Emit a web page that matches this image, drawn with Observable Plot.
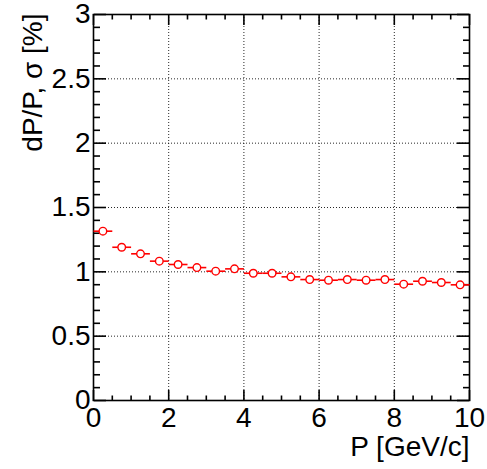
<!DOCTYPE html>
<html>
<head>
<meta charset="utf-8">
<script src="https://cdn.jsdelivr.net/npm/d3@7"></script>
<script src="https://cdn.jsdelivr.net/npm/@observablehq/plot@0.6"></script>
<style>
  html, body { margin: 0; padding: 0; background: white; }
</style>
</head>
<body>
<div id="chart"></div>
<script>
// Bin centers (GeV/c), bin half-width, resolution values (%)
const pCenters = [0.25, 0.75, 1.25, 1.75, 2.25, 2.75, 3.25, 3.75, 4.25, 4.75,
                  5.25, 5.75, 6.25, 6.75, 7.25, 7.75, 8.25, 8.75, 9.25, 9.75];
const pHalfWidth = [0.25, 0.25, 0.25, 0.25, 0.25, 0.25, 0.25, 0.25, 0.25, 0.25,
                    0.25, 0.25, 0.25, 0.25, 0.25, 0.25, 0.25, 0.25, 0.25, 0.25];
const sigma = [1.316, 1.191, 1.140, 1.083, 1.057, 1.033, 1.005, 1.023, 0.989, 0.989,
               0.961, 0.940, 0.935, 0.940, 0.935, 0.940, 0.904, 0.927, 0.917, 0.899];

const xTicks = [0, 2, 4, 6, 8, 10];
const yTicks = [0, 0.5, 1, 1.5, 2, 2.5, 3];
const xTickLabels = ["0", "2", "4", "6", "8", "10"];
const yTickLabels = ["0", "0.5", "1", "1.5", "2", "2.5", "3"];
const xMinorTicks = d3.range(0, 10.001, 0.5).filter(v => !xTicks.includes(v));
const yMinorTicks = d3.range(0, 30.001, 1).map(v => v / 10).filter(v => !yTicks.includes(v));
const xTitle = "P [GeV/c]";
const yTitle = "dP/P, σ [%]";

const rows = pCenters.map((p, i) => ({p, lo: p - pHalfWidth[i], hi: p + pHalfWidth[i], s: sigma[i]}));

const font = "'Liberation Sans', Arial, Helvetica, sans-serif";
const axisLine = 1.6;
const xFmt = v => xTickLabels[xTicks.indexOf(v)];
const yFmt = v => yTickLabels[yTicks.indexOf(v)];

const chart = Plot.plot({
  width: 487,
  height: 469,
  marginLeft: 93,
  marginRight: 18,
  marginTop: 14,
  marginBottom: 69,
  x: {domain: [0, 10]},
  y: {domain: [0, 3]},
  style: {fontFamily: font, fontSize: "28px", color: "black", background: "white", overflow: "visible"},
  marks: [
    Plot.gridX(xTicks.slice(1, -1), {stroke: "black", strokeOpacity: 0.85, strokeDasharray: "1,2", strokeWidth: 1}),
    Plot.gridY(yTicks.slice(1, -1), {stroke: "black", strokeOpacity: 0.85, strokeDasharray: "1,2", strokeWidth: 1}),
    // major ticks, inward, all four sides
    Plot.axisX(xTicks, {anchor: "top", frameAnchor: "bottom", tickSize: 11, text: null, label: null, strokeWidth: axisLine}),
    Plot.axisX(xTicks, {anchor: "bottom", frameAnchor: "top", tickSize: 11, text: null, label: null, strokeWidth: axisLine}),
    Plot.axisY(yTicks, {anchor: "right", frameAnchor: "left", tickSize: 12, text: null, label: null, strokeWidth: axisLine}),
    Plot.axisY(yTicks, {anchor: "left", frameAnchor: "right", tickSize: 12, text: null, label: null, strokeWidth: axisLine}),
    // minor ticks
    Plot.axisX(xMinorTicks, {anchor: "top", frameAnchor: "bottom", tickSize: 5.5, text: null, label: null, strokeWidth: axisLine}),
    Plot.axisX(xMinorTicks, {anchor: "bottom", frameAnchor: "top", tickSize: 5.5, text: null, label: null, strokeWidth: axisLine}),
    Plot.axisY(yMinorTicks, {anchor: "right", frameAnchor: "left", tickSize: 6, text: null, label: null, strokeWidth: axisLine}),
    Plot.axisY(yMinorTicks, {anchor: "left", frameAnchor: "right", tickSize: 6, text: null, label: null, strokeWidth: axisLine}),
    // tick labels
    Plot.axisX(xTicks, {anchor: "bottom", tickSize: 0, tickPadding: 7, label: null, tickFormat: xFmt, fontSize: 28, fill: "black"}),
    Plot.axisY(yTicks, {anchor: "left", tickSize: 0, tickPadding: 3, label: null, tickFormat: yFmt, fontSize: 28, fill: "black"}),
    Plot.frame({stroke: "black", strokeWidth: axisLine}),
    // titles
    Plot.text([xTitle], {frameAnchor: "bottom-right", textAnchor: "end", lineAnchor: "middle", dy: 47, dx: 0, fontSize: 28, fill: "black"}),
    Plot.text([yTitle], {frameAnchor: "top-left", rotate: -90, textAnchor: "end", lineAnchor: "top", dx: -71, dy: -1, fontSize: 28, fill: "black"}),
    // data: horizontal bin-width bars + open circles
    Plot.link(rows, {x1: "lo", x2: "hi", y1: "s", y2: "s", stroke: "#ff0000", strokeWidth: 1.6}),
    Plot.dot(rows, {x: "p", y: "s", r: 3.8, stroke: "#ff0000", fill: "white", strokeWidth: 1.4})
  ]
});
document.getElementById("chart").appendChild(chart);
</script>
</body>
</html>
